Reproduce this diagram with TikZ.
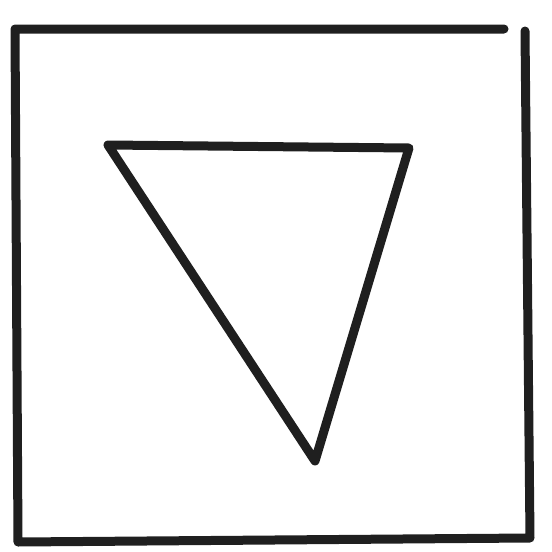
\documentclass[tikz,border=0pt]{standalone}
\begin{document}
\begin{tikzpicture}[x=1pt,y=-1pt,
  ink/.style={draw=black!88,line width=9pt,line cap=round,line join=round}]
\useasboundingbox (0,0) rectangle (552,552);
\coordinate (tl) at (15,29);
\coordinate (tr) at (504,29);
\coordinate (rt) at (525,31);
\coordinate (br) at (530,538);
\coordinate (bl) at (18,542);
\draw[ink] (tr) -- (tl) -- (bl) -- (br) -- (rt);
\coordinate (a) at (108,145);
\coordinate (b) at (409,148);
\coordinate (c) at (315,461);
\draw[ink] (a) -- (b) -- (c) -- cycle;
\end{tikzpicture}
\end{document}
